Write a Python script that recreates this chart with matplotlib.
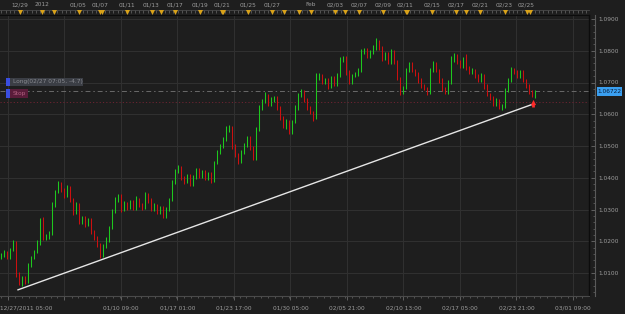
import matplotlib
matplotlib.use('Agg')
import matplotlib.pyplot as plt
import numpy as np
from matplotlib.ticker import MultipleLocator, FixedLocator
from matplotlib.transforms import blended_transform_factory
from matplotlib.patches import Rectangle

plt.rcParams['font.family'] = 'DejaVu Sans'
plt.rcParams['font.size'] = 4.2

# closing prices, one per bar (open = previous close)
closes = [
    1.0157, 1.0166, 1.0150, 1.0172, 1.0195, 1.0094, 1.0069, 1.0085, 1.0072, 1.0126,
    1.0148, 1.0166, 1.0195, 1.0261, 1.0211, 1.0217, 1.0226, 1.0315, 1.0356, 1.0381,
    1.0362, 1.0343, 1.0368, 1.0330, 1.0292, 1.0315, 1.0261, 1.0274, 1.0252, 1.0268,
    1.0230, 1.0211, 1.0189, 1.0157, 1.0183, 1.0205, 1.0242, 1.0293, 1.0330, 1.0343,
    1.0300, 1.0318, 1.0306, 1.0324, 1.0306, 1.0330, 1.0315, 1.0306, 1.0346, 1.0330,
    1.0300, 1.0312, 1.0293, 1.0306, 1.0280, 1.0300, 1.0330, 1.0387, 1.0419, 1.0431,
    1.0400, 1.0387, 1.0406, 1.0381, 1.0400, 1.0425, 1.0406, 1.0419, 1.0400, 1.0412,
    1.0393, 1.0447, 1.0481, 1.0500, 1.0519, 1.0551, 1.0557, 1.0500, 1.0472, 1.0450,
    1.0481, 1.0503, 1.0525, 1.0494, 1.0462, 1.0551, 1.0620, 1.0639, 1.0658, 1.0633,
    1.0645, 1.0652, 1.0620, 1.0589, 1.0563, 1.0576, 1.0544, 1.0576, 1.0620, 1.0658,
    1.0670, 1.0645, 1.0620, 1.0607, 1.0589, 1.0714, 1.0721, 1.0702, 1.0708, 1.0689,
    1.0714, 1.0695, 1.0721, 1.0771, 1.0777, 1.0733, 1.0702, 1.0721, 1.0727, 1.0739,
    1.0796, 1.0802, 1.0784, 1.0796, 1.0809, 1.0828, 1.0809, 1.0777, 1.0790, 1.0765,
    1.0796, 1.0765, 1.0714, 1.0670, 1.0683, 1.0739, 1.0758, 1.0739, 1.0727, 1.0708,
    1.0689, 1.0683, 1.0670, 1.0739, 1.0758, 1.0739, 1.0708, 1.0683, 1.0670, 1.0702,
    1.0771, 1.0784, 1.0765, 1.0752, 1.0771, 1.0746, 1.0733, 1.0739, 1.0721, 1.0708,
    1.0721, 1.0689, 1.0664, 1.0652, 1.0633, 1.0645, 1.0620, 1.0626, 1.0676, 1.0708,
    1.0739, 1.0733, 1.0721, 1.0733, 1.0708, 1.0689, 1.0670, 1.0658, 1.0672,
]
first_open = 1.0150

# wick lengths in pips above / below the body
up_wick = [
    5, 6, 4, 8, 10, 6, 8, 6, 5, 7,
    6, 5, 8, 12, 15, 6, 5, 10, 6, 8,
    7, 6, 9, 5, 6, 8, 6, 5, 7, 6,
    5, 6, 4, 6, 8, 7, 6, 8, 9, 7,
    6, 8, 5, 7, 6, 12, 6, 5, 8, 6,
    5, 7, 6, 5, 6, 8, 7, 6, 8, 10,
    6, 5, 7, 6, 8, 7, 6, 5, 6, 7,
    5, 6, 7, 6, 8, 12, 10, 6, 5, 6,
    6, 8, 7, 5, 6, 8, 10, 9, 12, 6,
    8, 7, 6, 5, 6, 8, 6, 7, 8, 9,
    8, 6, 5, 6, 4, 15, 8, 6, 7, 5,
    6, 5, 8, 10, 7, 6, 5, 7, 6, 8,
    9, 8, 6, 7, 8, 12, 6, 5, 7, 6,
    8, 6, 5, 4, 6, 7, 8, 6, 5, 6,
    5, 6, 4, 8, 10, 6, 5, 6, 4, 7,
    12, 8, 6, 5, 8, 20, 7, 6, 5, 6,
    8, 5, 6, 4, 5, 6, 4, 6, 8, 7,
    10, 6, 5, 7, 5, 4, 6, 5, 4,
]
dn_wick = [
    5, 6, 7, 5, 4, 8, 7, 9, 8, 5,
    6, 5, 4, 6, 8, 6, 9, 5, 6, 4,
    6, 7, 5, 6, 8, 6, 7, 6, 8, 5,
    6, 7, 8, 10, 6, 5, 6, 4, 5, 6,
    7, 5, 6, 5, 8, 6, 7, 6, 5, 8,
    6, 5, 7, 6, 8, 6, 5, 4, 6, 5,
    7, 6, 5, 8, 6, 5, 7, 6, 8, 6,
    8, 5, 4, 6, 5, 4, 6, 8, 7, 6,
    5, 6, 5, 8, 7, 6, 4, 6, 5, 7,
    6, 5, 8, 7, 6, 8, 7, 5, 4, 6,
    5, 7, 8, 6, 10, 5, 6, 7, 6, 8,
    5, 7, 6, 4, 6, 8, 7, 6, 5, 6,
    5, 6, 8, 6, 5, 6, 7, 8, 6, 7,
    6, 8, 7, 10, 6, 5, 6, 7, 6, 8,
    7, 6, 8, 5, 6, 7, 8, 9, 6, 5,
    6, 5, 7, 6, 5, 6, 7, 6, 7, 6,
    5, 8, 7, 6, 8, 6, 5, 7, 5, 6,
    6, 5, 7, 6, 5, 7, 6, 5, 6,
]

trend_bar = [5.5, 177.2]
trend_price = [1.0047, 1.0632]
last_price = 1.06722
stop_price = 1.0640
arrow_bar = 177.2
arrow_price = 1.0634

bottom_labels = ['12/27/2011 05:00', '', '01/10 09:00', '01/17 01:00', '01/23 17:00',
                 '01/30 05:00', '02/05 21:00', '02/10 13:00', '02/17 05:00',
                 '02/23 21:00', '03/01 09:00']
top_labels = ['12/29', '2012', '01/05', '01/07', '01/11', '01/13', '01/17', '01/19',
              '01/21', '01/25', '01/27', 'Feb', '02/03', '02/07', '02/09', '02/11',
              '02/15', '02/17', '02/21', '02/23', '02/25']
price_ticks = [1.01, 1.02, 1.03, 1.04, 1.05, 1.06, 1.07, 1.08, 1.09]

# layout, in screen pixels
W, H = 625, 314
top_label_px = [20, 42, 78, 100, 127, 151, 175, 200, 222, 248, 272, 311,
                335, 359, 383, 405, 432, 456, 480, 504, 526]
event_px = [20, 42, 54, 79, 100, 102, 127, 152, 161, 175, 200, 222, 223, 248, 272,
            284, 299, 311, 335, 345, 359, 383, 406, 407, 432, 456, 466, 480, 505,
            527, 530]
grid_px = [8 + 56.5 * k for k in range(11)]


def px2bar(px):
    return (np.asarray(px, dtype=float) - 1.5) / 3.0


def fx(px):
    return px / W


def fy(py):
    return 1 - py / H


bg = '#1e1e1e'
txt = '#9c9c9c'

fig = plt.figure(figsize=(6.25, 3.14), dpi=100, facecolor=bg)
ax = fig.add_axes([0, fy(296), 589 / W, (296 - 15) / H], facecolor=bg)

c = np.array(closes)
o = np.concatenate([[first_open], c[:-1]])
hi = np.maximum(o, c) + np.array(up_wick) * 1e-4
lo = np.minimum(o, c) - np.array(dn_wick) * 1e-4
bars = np.arange(len(c))
col = np.where(c >= o, '#1ec81e', '#cc1010')

# grid
for p in price_ticks:
    ax.axhline(p, color='#303030', lw=0.8, zorder=0)
for g in px2bar(grid_px):
    ax.axvline(g, color='#303030', lw=0.8, zorder=0)

ax.vlines(bars, lo, hi, colors=col, linewidth=0.75, zorder=2)
ax.bar(bars, np.maximum(np.abs(c - o), 0.00008), bottom=np.minimum(o, c),
       width=0.65, color=col, linewidth=0, zorder=3)

ax.axhline(last_price, color='#6a6a6a', lw=0.7, ls=(0, (5, 3, 1.5, 3)), zorder=1)
ax.axhline(stop_price, color='#6e2432', lw=0.7, ls=(0, (1.2, 2.2)), zorder=1)

ax.plot(trend_bar, trend_price, color='#e6e6e6', lw=1.0, zorder=4)
ax.vlines(arrow_bar, arrow_price - 0.0011, arrow_price + 0.0002, colors='#ff2a2a', lw=2, zorder=5)
ax.scatter([arrow_bar], [arrow_price + 0.0004], marker='^', s=14, color='#ff2a2a', zorder=5, linewidths=0)

ax.set_xlim(px2bar(0), px2bar(589))
ax.set_ylim(1.09 - 277 / 3175, 1.09 + 4 / 3175)

# spines
ax.spines['left'].set_visible(False)
ax.spines['top'].set_color('#0c0c0c')
ax.spines['bottom'].set_color('#4a4a4a')
ax.spines['right'].set_color('#5a5a5a')
ax.spines['right'].set_position(('outward', 6 * 0.72))
ax.plot([1, 1], [0, 1], transform=ax.transAxes, color='#0c0c0c', lw=1, clip_on=False)

# right price axis
ax.yaxis.tick_right()
ax.yaxis.set_major_locator(FixedLocator(price_ticks))
ax.yaxis.set_minor_locator(MultipleLocator(0.002))
ax.set_yticklabels(['%.4f' % p for p in price_ticks])
ax.tick_params(axis='y', which='major', direction='in', length=3, width=0.6,
               color='#6a6a6a', labelcolor=txt, pad=2.5)
ax.tick_params(axis='y', which='minor', direction='in', length=1.5, width=0.5, color='#6a6a6a')

# bottom time axis
ax.xaxis.set_major_locator(FixedLocator(px2bar(grid_px)))
ax.xaxis.set_minor_locator(MultipleLocator(7 / 3))
ax.set_xticklabels([''] + bottom_labels[1:])
ax.tick_params(axis='x', which='major', direction='out', length=3, width=0.6,
               color='#6a6a6a', labelcolor=txt, pad=4)
ax.tick_params(axis='x', which='minor', direction='out', length=1.5, width=0.5, color='#6a6a6a')
fig.text(fx(0), fy(308.5), bottom_labels[0], color=txt, ha='left', va='center')

# top strip with day markers
top = ax.secondary_xaxis(1 + 5 / 281)
top.xaxis.set_major_locator(FixedLocator([]))
top.xaxis.set_minor_locator(MultipleLocator(4.3 / 3))
top.tick_params(which='minor', direction='in', length=2, width=0.5, color='#6a6a6a')
top.spines['top'].set_color('#4a4a4a')
top.spines['top'].set_linewidth(0.6)

tr = blended_transform_factory(ax.transData, ax.transAxes)
ax.scatter(px2bar(event_px), [(296 - 11.5) / 281] * len(event_px), marker='v', s=13,
           color='#d9a21a', transform=tr, clip_on=False, linewidths=0, zorder=6)
for lab, p in zip(top_labels, px2bar(top_label_px)):
    ax.text(p, (296 - 5) / 281, lab, transform=tr, ha='center', va='center',
            color=txt, clip_on=False)

# order boxes on the left
fig.add_artist(Rectangle((fx(6), fy(86)), fx(77), 8 / H, transform=fig.transFigure,
                         facecolor='#3b3e45', edgecolor='none'))
fig.add_artist(Rectangle((fx(6), fy(86)), fx(4), 8 / H, transform=fig.transFigure,
                         facecolor='#3a4ee0', edgecolor='none'))
fig.text(fx(13), fy(82), 'Long(02/27 07:05, -4.7)', color='#888a90', va='center', ha='left')
fig.add_artist(Rectangle((fx(6), fy(98)), fx(22), 9 / H, transform=fig.transFigure,
                         facecolor='#5a1c3a', edgecolor='none'))
fig.add_artist(Rectangle((fx(6), fy(98)), fx(4), 9 / H, transform=fig.transFigure,
                         facecolor='#3a4ee0', edgecolor='none'))
fig.text(fx(13), fy(93.5), 'Stop', color='#b06080', va='center', ha='left')

# last price tag
fig.add_artist(Rectangle((fx(597), fy(96)), fx(25), 9 / H, transform=fig.transFigure,
                         facecolor='#3a9ff0', edgecolor='none'))
fig.text(fx(609.5), fy(91.5), '%.5f' % last_price, color='#0a1e3a', va='center', ha='center')

fig.savefig('out.png', dpi=100, facecolor=bg)
